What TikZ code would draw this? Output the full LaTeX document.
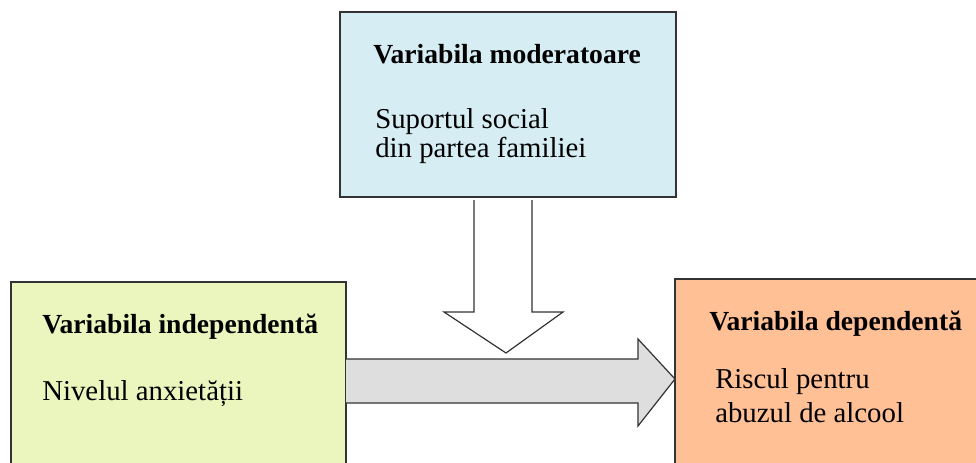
\documentclass[tikz,border=0pt]{standalone}
\usepackage{fontspec}
\setmainfont{Liberation Serif}
\newfontfamily\varfont{Liberation Serif}
\definecolor{modblue}{HTML}{D5EDF3}
\definecolor{indgreen}{HTML}{EAF6BE}
\definecolor{deppeach}{HTML}{FFC096}
\definecolor{arrgrey}{HTML}{DEDEDE}
\definecolor{edge}{HTML}{333333}
\tikzset{
  varbox/.style={draw=edge, line width=0.9pt},
  title/.style={anchor=base west, inner sep=0pt, font=\varfont\fontsize{20.7}{24}\selectfont\bfseries},
  body/.style={anchor=base west, inner sep=0pt, font=\varfont\fontsize{21.6}{25}\selectfont},
  blockarrow/.style={draw=edge, line width=0.9pt, line join=miter}
}
\begin{document}
\begin{tikzpicture}[x=0.75pt,y=-0.75pt]
\useasboundingbox (0,0) rectangle (976,462);
\clip (0,0) rectangle (976,462);
% boxes
\path[varbox, fill=modblue] (340,12) rectangle (676,197);
\path[varbox, fill=indgreen] (11,282) rectangle (346,480);
\path[varbox, fill=deppeach] (675,279) rectangle (990,480);
\node[inner sep=0pt, minimum size=0pt] (mod) at (503,197) {};
\node[inner sep=0pt, minimum size=0pt] (ind) at (346,381) {};
\node[inner sep=0pt, minimum size=0pt] (dep) at (675,379) {};
% texts
\node[title] (modt) at (373,63) {Variabila moderatoare};
\node[body] (modb1) at (375,128) {Suportul social};
\node[body] (modb2) at (375,157) {din partea familiei};
\node[title] (indt) at (42,333) {Variabila independentă};
\node[body] (indb) at (42,400) {Nivelul anxietății};
\node[title] (dept) at (709,330) {Variabila dependentă};
\node[body] (depb1) at (715,388) {Riscul pentru};
\node[body] (depb2) at (715,422) {abuzul de alcool};
% horizontal block arrow from ind to dep
\fill[arrgrey] (ind.center |- 0,359) -- (638,359) -- (638,339) -- (dep.center) -- (638,426) -- (638,403) -- (ind.center |- 0,403) -- cycle;
\draw[blockarrow] (ind.center |- 0,359) -- (638,359) -- (638,339) -- (dep.center) -- (638,426) -- (638,403) -- (ind.center |- 0,403);
% vertical block arrow from mod down onto the horizontal arrow
\fill[white] (474,200) -- (474,312) -- (444,312) -- (506,353) -- (563,312) -- (532,312) -- (532,200) -- cycle;
\draw[blockarrow] (474,200) -- (474,312) -- (444,312) -- (506,353) -- (563,312) -- (532,312) -- (532,200);
\end{tikzpicture}
\end{document}
